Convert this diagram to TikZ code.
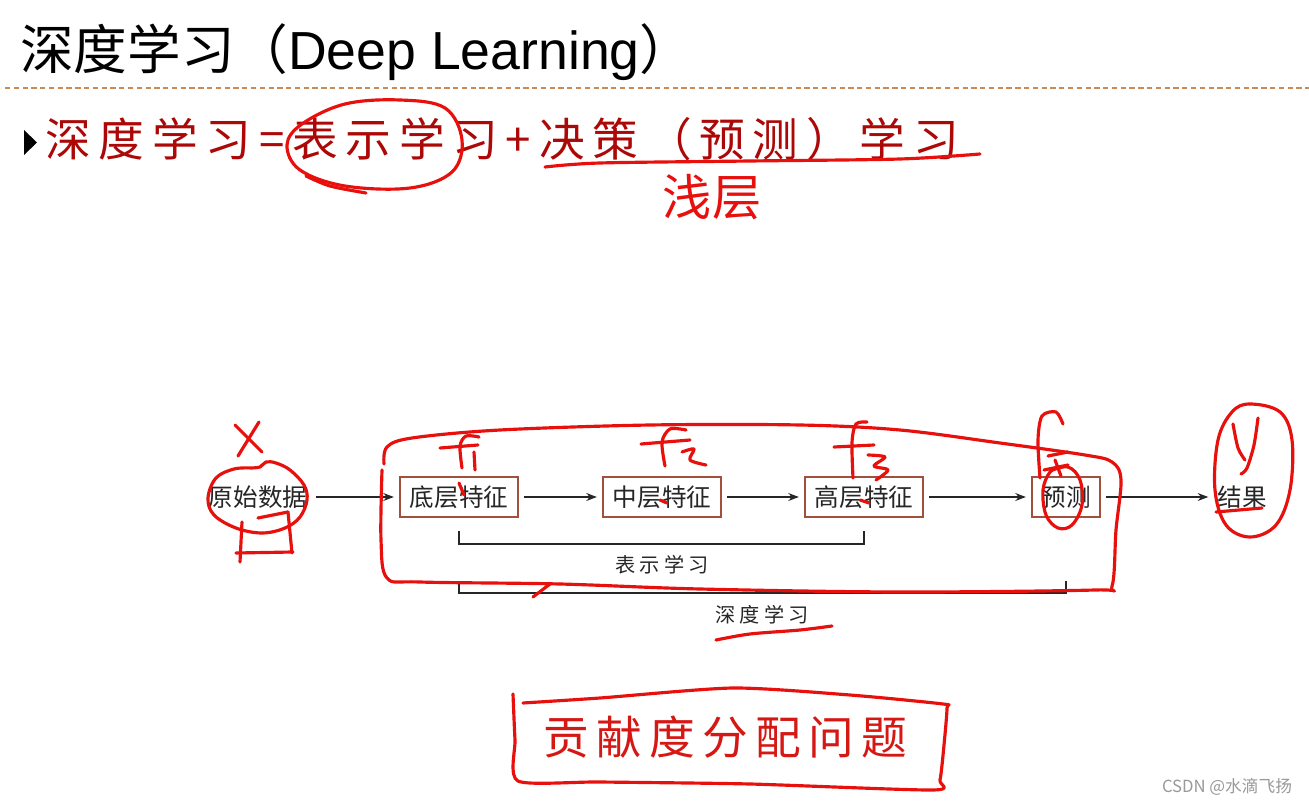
\documentclass[tikz,border=0pt]{standalone}
\usepackage{fontspec}
\setmainfont{Liberation Sans}
\newfontfamily\cjk{Noto Sans CJK SC}
\newfontfamily\cjkspaced{Noto Sans CJK SC}[LetterSpace=17]
\newfontfamily\cjkwide{Noto Sans CJK SC}[LetterSpace=16]
\newfontfamily\cjklabel{Noto Sans CJK SC}[LetterSpace=20]
\usetikzlibrary{arrows.meta,calc}
\definecolor{hred}{RGB}{232,16,12}
\definecolor{tred}{RGB}{172,8,8}
\definecolor{bred}{RGB}{214,24,20}
\definecolor{boxc}{RGB}{160,80,60}
\definecolor{dashc}{RGB}{200,140,80}
\tikzset{
  stepbox/.style={draw=boxc, line width=1pt, minimum width=2.36cm, minimum height=0.8cm, inner sep=0pt, font=\cjk\fontsize{14}{16}\selectfont, text=black!85},
  plain/.style={inner sep=2pt, font=\cjk\fontsize{14}{16}\selectfont, text=black!85},
  flow/.style={-{Stealth[length=6pt,width=4.5pt]}, line width=0.8pt, black!85, shorten <=3pt, shorten >=3pt},
  bracket/.style={line width=0.9pt, black!85},
  hand/.style={draw=hred, line width=1.8pt, line cap=round, line join=round},
}
\begin{document}
\begin{tikzpicture}[x=0.02cm,y=-0.02cm]
\useasboundingbox (0,0) rectangle (1309,804);
\fill[white] (0,0) rectangle (1309,804);
% title
\node[anchor=base west, inner sep=0pt, font=\fontsize{30.5}{36}\selectfont] (title) at (20,70) {{\cjk 深度学习（}Deep Learning{\cjk ）}};
\coordinate (dl) at (5,88);
\coordinate (dr) at (1309,88);
\draw[dashc, line width=0.8pt, dash pattern=on 3pt off 2pt] (dl) -- (dr);
% bullet line
\fill[black] (24,130) -- (37,142.5) -- (24,155) -- cycle;
\node[anchor=base west, inner sep=0pt, text=tred, font=\cjkspaced\fontsize{26}{30}\selectfont] (eq) at (45,157) {深度学习=表示学习+决策（预测）学习};
\node[text=hred, inner sep=0pt, font=\cjk\fontsize{28}{32}\selectfont] (shallow) at (712,197) {浅层};
% diagram nodes
\node[plain] (raw) at (258,497) {原始数据};
\node[stepbox] (low) at (459,497) {底层特征};
\node[stepbox] (mid) at (662,497) {中层特征};
\node[stepbox] (high) at (864,497) {高层特征};
\node[stepbox, minimum width=1.36cm] (pred) at (1066,497) {预测};
\node[plain] (res) at (1242,497) {结果};
\draw[flow] (raw) -- (low);
\draw[flow] (low) -- (mid);
\draw[flow] (mid) -- (high);
\draw[flow] (high) -- (pred);
\draw[flow] (pred) -- (res);
\draw[bracket] ($(low.south)+(0,13)$) -- ($(low.south)+(0,26)$) -- ($(high.south)+(0,26)$) -- ($(high.south)+(0,13)$);
\node[inner sep=0pt, font=\cjklabel\fontsize{11.5}{14}\selectfont, text=black!85] (replab) at (662,565) {表示学习};
\draw[bracket] ($(low.south)+(0,63)$) -- ($(low.south)+(0,75)$) -- ($(pred.south)+(0,75)$) -- ($(pred.south)+(0,63)$);
\node[inner sep=0pt, font=\cjklabel\fontsize{11.5}{14}\selectfont, text=black!85] (deeplab) at (762,615) {深度学习};
% bottom box text
\node[inner sep=0pt, text=bred, font=\cjkwide\fontsize{26}{30}\selectfont] (credit) at (725,737) {贡献度分配问题};
% watermark
\node[inner sep=0pt, text=black!40, font=\cjk\fontsize{9.5}{11}\selectfont] (wm) at (1227,787) {CSDN @水滴飞扬};
% ---- handwriting ----
\draw[hand] plot[smooth cycle, tension=0.6] coordinates {(302,124)(345,104)(400,100)(445,108)(462,140)(452,172)(410,188)(345,186)(300,170)(287,145)};
\draw[hand] plot[smooth] coordinates {(306,176)(330,186)(366,193)};
\draw[hand] plot[smooth] coordinates {(545,167)(600,163)(750,161)(900,159)(980,154)};
% X
\draw[hand] (235,425) -- (262,452);
\draw[hand] (259,422) -- (238,456);
% cloud around raw
\draw[hand] plot[smooth, tension=0.6] coordinates {(250,468)(260,467)(266,462)(276,463)(290,470)(304,485)(307,500)(300,517)(285,528)(262,533)(236,528)(214,515)(208,498)(216,478)(234,469)(252,468)};
\draw[hand] (242,522) -- (240,562);
\draw[hand] (236,553) -- (293,552);
\draw[hand] (288,512) -- (292,553);
\draw[hand] (258,518) -- (288,512);
% big enclosure
\draw[hand] plot[smooth, tension=0.55] coordinates {(384,464)(387,447)(412,438)(500,430)(650,425)(800,425)(900,430)(1000,443)(1085,455)(1112,462)(1121,480)(1116,530)(1112,586)(1095,590)(900,592)(700,589)(560,584)(420,582)(387,578)(381,540)(382,470)};
\draw[hand] (533,597) -- (550,584);
% f1
\draw[hand] plot[smooth] coordinates {(462,468)(460,446)(466,436)(479,437)};
\draw[hand] (440,448) -- (478,445);
\draw[hand] (474,452) -- (475,470);
\draw[hand] (459,483) -- (464,495);
% f2
\draw[hand] plot[smooth] coordinates {(665,466)(662,442)(670,429)(686,430)};
\draw[hand] (641,444) -- (690,440);
\draw[hand] plot[smooth, tension=0.5] coordinates {(682,452)(694,449)(690,460)(706,465)};
\draw[hand] (660,500) -- (667,503);
% f3
\draw[hand] plot[smooth] coordinates {(853,478)(852,442)(856,424)(867,422)};
\draw[hand] (834,447) -- (874,445);
\draw[hand] plot[smooth, tension=0.5] coordinates {(868,455)(885,457)(874,466)(888,470)(876,480)};
\draw[hand] (860,500) -- (869,503);
% f4
\draw[hand] plot[smooth] coordinates {(1040,478)(1038,440)(1042,416)(1056,412)(1063,424)};
\draw[hand] (1048,456) -- (1068,452);
\draw[hand] (1055,460) -- (1061,476);
\draw[hand] (1044,470) -- (1068,465);
% circle around 测
\draw[hand] plot[smooth, tension=0.6] coordinates {(1050,471)(1068,467)(1080,480)(1082,505)(1072,525)(1058,528)(1046,515)(1043,490)(1050,472)(1060,468)};
% ellipse around y / result
\draw[hand] plot[smooth cycle, tension=0.6] coordinates {(1250,404)(1280,412)(1292,440)(1290,490)(1276,525)(1250,537)(1226,525)(1215,490)(1218,440)(1232,412)};
\draw[hand] plot[smooth] coordinates {(1233,424)(1238,448)(1245,460)};
\draw[hand] plot[smooth] coordinates {(1258,418)(1254,445)(1247,468)(1241,474)};
\draw[hand] (1216,512) -- (1262,508);
% underline deep learning label
\draw[hand] plot[smooth] coordinates {(716,640)(750,634)(800,630)(832,626)};
% credit box
\draw[hand] plot[smooth, tension=0.4] coordinates {(513,694)(515,740)(518,781)(600,782)(750,784)(933,790)(940,780)(944,745)(947,708)(943,704)(850,695)(733,688)(600,698)(523,703)};
\end{tikzpicture}
\end{document}
